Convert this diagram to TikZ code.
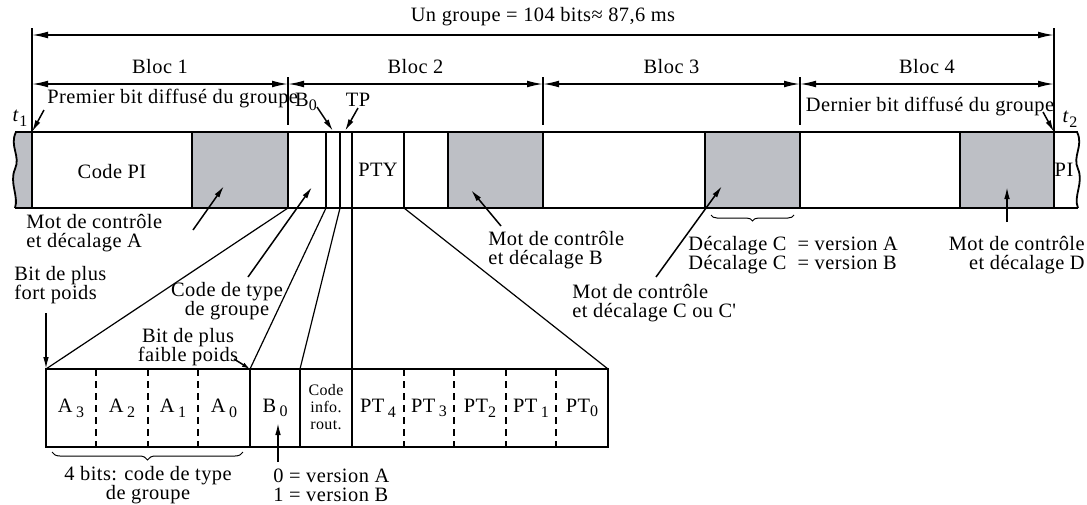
\documentclass[tikz,border=0pt]{standalone}
\usepackage{fontspec}
\setmainfont{Liberation Serif}[LetterSpace=2.2]
\usetikzlibrary{arrows.meta,decorations.pathreplacing,positioning}
\definecolor{wordgray}{RGB}{189,191,197}
\newcommand\lowi[1]{\raisebox{-0.5ex}{\footnotesize #1}}
\tikzset{
  dimline/.style={line width=0.75pt,{Latex[length=8pt,width=3.4pt]}-{Latex[length=8pt,width=3.4pt]}},
  pointer/.style={line width=0.75pt,-{Latex[length=6pt,width=2.8pt]}},
  frame/.style={line width=0.9pt},
  fan/.style={line width=0.6pt},
  txt/.style={font=\fontsize{10.2}{9.5}\selectfont,inner sep=0pt},
  small/.style={font=\fontsize{8}{8.5}\selectfont,inner sep=0pt,align=center},
}
\begin{document}
\begin{tikzpicture}[x=0.5pt,y=-0.5pt]
  \useasboundingbox (0,0) rectangle (1087,504);

  % group and blocks
  \coordinate (g1) at (32,35);
  \coordinate (g2) at (1054,35);
  \coordinate (t1) at (32,132);
  \coordinate (t2) at (1054,132);
  \draw[line width=0.75pt] (32,28) -- (t1);
  \draw[line width=0.75pt] (1054,28) -- (t2);
  \draw[dimline] (g1) -- node[txt,above=4pt] (grp) {Un groupe = 104 bits≈ 87,6 ms} (g2);
  \foreach \a/\b/\n in {32/288/1,288/543/2,543/800/3,800/1054/4}
    \draw[dimline] (\a,84) -- node[txt,above=5pt] (bloc\n) {Bloc \n} (\b,84);
  \foreach \x in {288,543,800}
    \draw[line width=0.75pt] (\x,77) -- (\x,125);

  % the bits as sent
  \fill[wordgray] (32,132) -- (16,132) .. controls (9,146) and (21,156) .. (15,169)
    .. controls (9,183) and (19,196) .. (15,208) -- (32,208) -- cycle;
  \foreach \a/\b in {192/288,448/543,705/800,960/1054}
    \fill[wordgray] (\a,132) rectangle (\b,208);
  \draw[frame] (15,132) -- (1078,132);
  \draw[frame] (15,208) -- (1078,208);
  \draw[frame] (16,132) .. controls (9,146) and (21,156) .. (15,169)
    .. controls (9,183) and (19,196) .. (15,208);
  \draw[frame] (1077,132) .. controls (1084,146) and (1072,156) .. (1078,169)
    .. controls (1084,183) and (1073,196) .. (1078,208);
  \foreach \x in {32,192,288,326,340,352,404,448,543,705,800,960,1054}
    \draw[frame] (\x,132) -- (\x,208);
  \node[txt] (codepi) at (112,172) {Code PI};
  \node[txt] (pty) at (378,170) {PTY};
  \node[txt] (pinext) at (1064,170) {PI};

  % labels above
  \node[txt] (lt1) at (20,118) {\textit{t}\lowi{1}};
  \node[txt] (lt2) at (1070,119) {\textit{t}\lowi{2}};
  \node[txt,anchor=west] (first) at (47,99) {Premier bit diffusé du groupe};
  \node[txt] (last) at (930,107) {Dernier bit diffusé du groupe};
  \node[txt] (lb0) at (306,102) {B\lowi{0}};
  \node[txt] (tp) at (358,100) {TP};
  \coordinate (a1) at (44,110);
  \coordinate (a2) at (1043,112);
  \coordinate (b0a) at (317,107);
  \coordinate (b0b) at (333,131);
  \coordinate (tpa) at (358,108);
  \coordinate (tpb) at (345,131);
  \draw[pointer] (a1) -- (t1);
  \draw[pointer] (a2) -- (t2);
  \draw[pointer] (b0a) -- (b0b);
  \draw[pointer] (tpa) -- (tpb);

  % labels below
  \node[txt,align=left,anchor=west] (motA) at (26,233) {Mot de contrôle\\et décalage A};
  \node[txt,align=left,anchor=west] (motB) at (488,250) {Mot de contrôle\\et décalage B};
  \node[txt,align=left,anchor=west] (decC) at (688,255) {Décalage C \ = version A\\Décalage C \ = version B};
  \node[txt,align=left,anchor=west] (motC) at (572,303) {Mot de contrôle\\et décalage C ou C\textquotesingle};
  \node[txt,align=right,anchor=east] (motD) at (1085,255) {Mot de contrôle\\et décalage D};
  \node[txt,align=center] (ctype) at (227,301) {Code de type\\de groupe};
  \node[txt,align=left,anchor=west] (msb) at (14,285) {Bit de plus\\fort poids};
  \node[txt,align=center] (lsb) at (188,347) {Bit de plus\\faible poids};
  \draw[decorate,decoration={brace,mirror,amplitude=3pt},line width=0.5pt] (711,215) -- (794,215);
  \coordinate (pA1) at (193,230);  \coordinate (pA2) at (224,186);
  \coordinate (pB1) at (501,226);  \coordinate (pB2) at (471,190);
  \coordinate (pC1) at (656,277);  \coordinate (pC2) at (722,186);
  \coordinate (pD1) at (1007,222); \coordinate (pD2) at (1007,187);
  \coordinate (pT1) at (248,277);  \coordinate (pT2) at (312,187);
  \draw[pointer] (pA1) -- (pA2);
  \draw[pointer] (pB1) -- (pB2);
  \draw[pointer] (pC1) -- (pC2);
  \draw[pointer] (pD1) -- (pD2);
  \draw[pointer] (pT1) -- (pT2);

  % block 2 in detail
  \draw[frame] (46,369) rectangle (608,447);
  \foreach \x in {250,300,352}
    \draw[frame] (\x,369) -- (\x,447);
  \foreach \x in {96,148,198,404,454,506,556}
    \draw[frame,dash pattern=on 3.5pt off 2.5pt] (\x,369) -- (\x,447);
  \foreach \x/\t [count=\i] in {71/{A\,\lowi{3}},122/{A\,\lowi{2}},173/{A\,\lowi{1}},224/{A\,\lowi{0}},
      275/{B\,\lowi{0}},378/{PT\,\lowi{4}},429/{PT\,\lowi{3}},480/{PT\lowi{2}},531/{PT\,\lowi{1}},582/{PT\lowi{0}}}
    \node[txt] (cell\i) at (\x,408) {\t};
  \node[small] (info) at (326,407) {Code\\info.\\rout.};
  \draw[fan] (288,208) -- (46,369);
  \draw[fan] (326,208) -- (250,369);
  \draw[fan] (340,208) -- (300,369);
  \draw[fan] (352,208) -- (352,369);
  \draw[fan] (404,208) -- (608,369);
  \coordinate (m1) at (46,313);  \coordinate (m2) at (46,369);
  \coordinate (l1) at (234,359); \coordinate (l2) at (250,369);
  \draw[pointer] (m1) -- (m2);
  \draw[pointer,-{Latex[length=4pt,width=2.4pt]}] (l1) -- (l2);
  \draw[decorate,decoration={brace,mirror,amplitude=4pt},line width=0.5pt] (52,452) -- (243,452);
  \node[txt,align=center] (four) at (148,485) {4 bits: code de type\\de groupe};
  \node[txt,align=left,anchor=west] (vers) at (273,485) {0 = version A\\1 = version B};
  \coordinate (v1) at (278,462); \coordinate (v2) at (278,423);
  \draw[pointer] (v1) -- (v2);
\end{tikzpicture}
\end{document}
